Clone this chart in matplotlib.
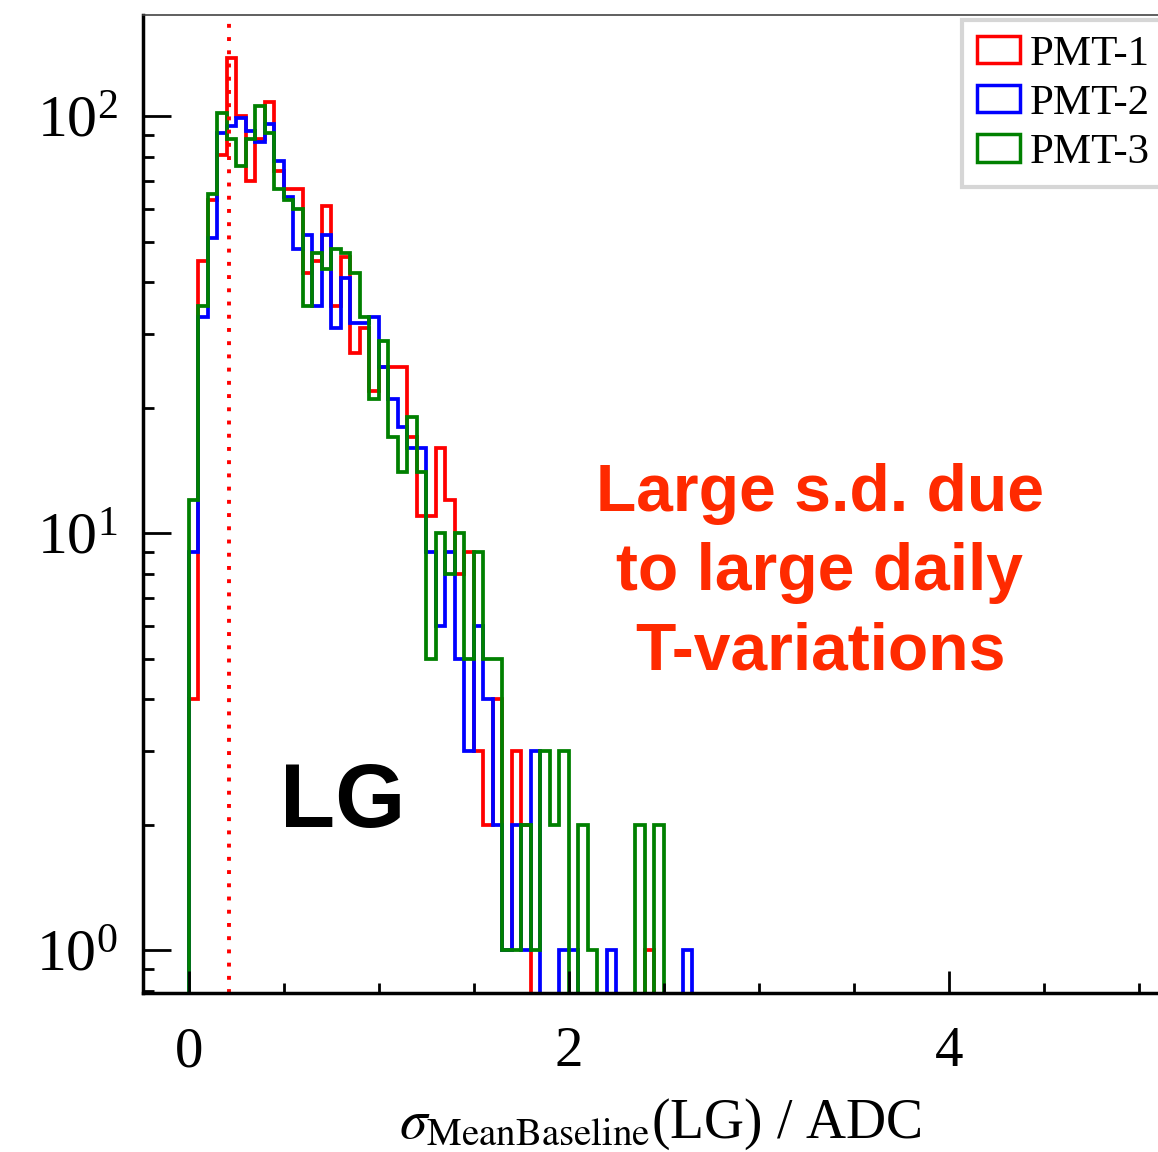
import numpy as np
import matplotlib
matplotlib.use('Agg')
import matplotlib.pyplot as plt
from matplotlib.patches import Patch
from matplotlib.ticker import MultipleLocator, LogLocator, LogFormatterMathtext

plt.rcParams['font.family'] = ['Liberation Serif', 'DejaVu Serif']
plt.rcParams['mathtext.fontset'] = 'stix'

# histogram contents, bins of 0.05 ADC starting at 0
bin_width = 0.05
pmt1 = [4, 45, 63, 81, 138, 100, 70, 88, 108, 74,
        67, 67, 42, 45, 61, 35, 46, 27, 31, 22,
        25, 25, 25, 17, 11, 11, 16, 12, 8, 9,
        3, 2, 4, 1, 3, 2, 0, 0, 0, 0,
        0, 0, 0, 0, 0, 0, 0, 0, 1, 0,
        0, 0, 0]
pmt2 = [9, 33, 51, 91, 95, 99, 92, 87, 96, 78,
        64, 48, 52, 35, 52, 31, 41, 32, 32, 33,
        25, 21, 18, 16, 16, 9, 6, 9, 5, 3,
        6, 4, 2, 1, 2, 1, 3, 0, 0, 1,
        1, 0, 0, 0, 1, 0, 0, 0, 0, 0,
        0, 0, 1]
pmt3 = [12, 35, 65, 102, 88, 76, 88, 106, 91, 67,
        63, 60, 35, 47, 43, 48, 47, 42, 33, 21,
        29, 17, 14, 19, 14, 5, 10, 8, 10, 5,
        9, 5, 5, 1, 1, 2, 1, 3, 2, 3,
        0, 2, 1, 0, 0, 0, 0, 2, 0, 2,
        0, 0, 0]
labels = ['PMT-1', 'PMT-2', 'PMT-3']
colors = ['#ff0000', '#0000ff', '#008000']
cut_value = 0.21

edges = np.arange(len(pmt1) + 1) * bin_width

fig = plt.figure(figsize=(11.58, 11.52), dpi=100)
ax = fig.add_axes([143 / 1158, (1152 - 993) / 1152, 1034 / 1158, (993 - 15) / 1152])

for vals, c in zip([pmt1, pmt2, pmt3], colors):
    ax.stairs(vals, edges, baseline=0, color=c, linewidth=2.7)

ax.axvline(cut_value, color='#ff0000', linewidth=2.8, linestyle=(0, (1, 2.4)))

ax.set_yscale('log')
ax.set_xlim(-0.24, 5.2)
ax.set_ylim(0.79, 175)

ax.xaxis.set_major_locator(MultipleLocator(2))
ax.xaxis.set_minor_locator(MultipleLocator(0.5))
ax.yaxis.set_major_locator(LogLocator(base=10))
ax.yaxis.set_minor_locator(LogLocator(base=10, subs=np.arange(2, 10)))
ax.yaxis.set_major_formatter(LogFormatterMathtext())

ax.tick_params(axis='both', which='both', direction='in', width=2, top=False, right=False)
ax.tick_params(axis='x', which='major', length=16, pad=24, labelsize=41)
ax.tick_params(axis='x', which='minor', length=7)
ax.tick_params(axis='y', which='major', length=20, pad=18, labelsize=43)
ax.tick_params(axis='y', which='minor', length=8)

for s in ['left', 'bottom']:
    ax.spines[s].set_linewidth(2.5)
ax.spines['top'].set_linewidth(1.2)
ax.spines['top'].set_color('#444444')
ax.spines['right'].set_visible(False)

ax.set_xlabel(r'$\sigma_{\mathrm{MeanBaseline}}$(LG) / ADC', fontsize=40, labelpad=13)

handles = [Patch(facecolor='none', edgecolor=c, linewidth=2.5) for c in colors]
leg = fig.legend(handles, labels, loc='upper left', bbox_to_anchor=(962 / 1158, 1 - 20 / 1152),
                 bbox_transform=fig.transFigure, fontsize=31, frameon=True, fancybox=False,
                 handlelength=1.0, handleheight=0.6, handletextpad=0.22, labelspacing=0.25,
                 borderpad=0.35, borderaxespad=0)
leg.get_frame().set_edgecolor('#cccccc')
leg.get_frame().set_linewidth(3)

fig.text(820 / 1158, 1 - 573 / 1152, 'Large s.d. due\nto large daily\nT-variations',
         color='#ff2a00', fontsize=47.5, fontweight='bold', family='Liberation Sans',
         ha='center', va='center', linespacing=1.36)
fig.text(343 / 1158, 1 - 803 / 1152, 'LG', color='black', fontsize=65, fontweight='bold',
         family='Liberation Sans', ha='center', va='center')

fig.savefig('out.png', dpi=100)
